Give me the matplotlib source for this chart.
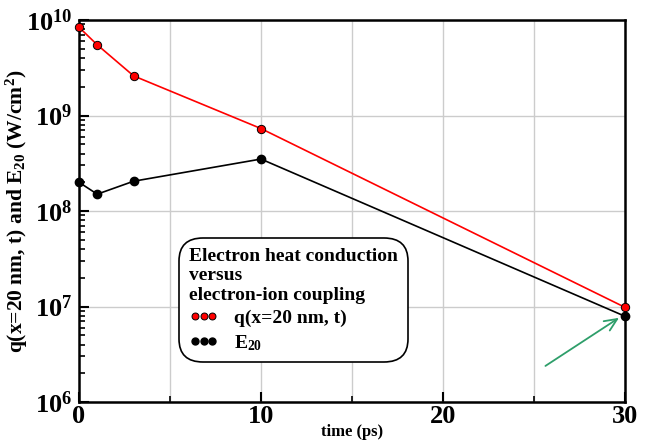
import numpy as np
import matplotlib
matplotlib.use("Agg")
import matplotlib.pyplot as plt
from matplotlib.ticker import LogLocator, FixedLocator, NullFormatter

plt.rcParams['font.family'] = ['Liberation Serif']
plt.rcParams['font.weight'] = 'bold'
plt.rcParams['mathtext.fontset'] = 'custom'
plt.rcParams['mathtext.rm'] = 'Liberation Serif:bold'
plt.rcParams['mathtext.bf'] = 'Liberation Serif:bold'
plt.rcParams['mathtext.it'] = 'Liberation Serif:bold'

t = [0, 1, 3, 10, 30]
q20 = [8.4e9, 5.5e9, 2.6e9, 7.3e8, 9.8e6]
e20 = [2.0e8, 1.5e8, 2.05e8, 3.5e8, 7.9e6]

fig = plt.figure(figsize=(6.49, 4.43), dpi=100)
ax = fig.add_axes([79/649, 41/443, 546/649, 382/443])

ax.plot(t, q20, color='red', lw=1.2, marker='o', ms=6, mfc='red', mec='black', mew=0.7,
        label='q(x=20 nm, t)', zorder=3, clip_on=False)
ax.plot(t, e20, color='black', lw=1.2, marker='o', ms=6, mfc='black', mec='black',
        label='E$_{20}$', zorder=3, clip_on=False)

ax.set_yscale('log')
ax.set_xlim(0, 30)
ax.set_ylim(1e6, 1e10)
ax.xaxis.set_major_locator(FixedLocator([0, 10, 20, 30]))
ax.xaxis.set_minor_locator(FixedLocator([5, 15, 25]))
ax.yaxis.set_minor_locator(LogLocator(base=10, subs=np.arange(2, 10), numticks=20))
ax.yaxis.set_minor_formatter(NullFormatter())
ax.set_yticks([1e6, 1e7, 1e8, 1e9, 1e10])
ax.set_yticklabels(['$10^{%d}$' % k for k in range(6, 11)])

ax.grid(True, which='major', color='#cccccc', lw=1)
ax.grid(True, which='minor', axis='x', color='#cccccc', lw=1)
ax.set_axisbelow(True)
ax.tick_params(axis='both', which='major', direction='in', length=7, width=1.5,
               labelsize=19, top=False, right=False)
ax.tick_params(axis='both', which='minor', direction='in', length=4, width=1.2,
               top=False, right=False)
ax.tick_params(axis='x', which='major', pad=2)
ax.tick_params(axis='y', which='major', pad=5)
for s in ax.spines.values():
    s.set_linewidth(1.8)

ax.set_xlabel('time (ps)', fontsize=12, fontweight='bold', labelpad=-3)
ax.set_ylabel('q(x=20 nm, t) and E$_{20}$ (W/cm$^2$)', fontsize=15.5, fontweight='bold')
ax.yaxis.set_label_coords(-0.09, 0.5)

leg = ax.legend(loc='lower left', bbox_to_anchor=(0.166, 0.078), numpoints=3,
                title='Electron heat conduction\nversus\nelectron-ion coupling',
                title_fontproperties={'weight': 'bold', 'size': 14},
                prop={'weight': 'bold', 'size': 14}, handlelength=1.5,
                fancybox=True, framealpha=1, edgecolor='black', alignment='left',
                labelspacing=0.3, borderpad=0.5)
for h in leg.legend_handles:
    h.set_linestyle('none')
    h.set_markersize(5)
leg.get_frame().set_linewidth(1.2)
leg.get_frame().set_boxstyle('round,pad=0,rounding_size=1.2')

ax.annotate('', xy=(29.8, 7.9e6), xytext=(25.5, 2.3e6),
            arrowprops=dict(arrowstyle='->,head_length=0.9,head_width=0.4',
                            color='#2e9e6a', lw=1.3))

fig.savefig('out.png', dpi=100)
